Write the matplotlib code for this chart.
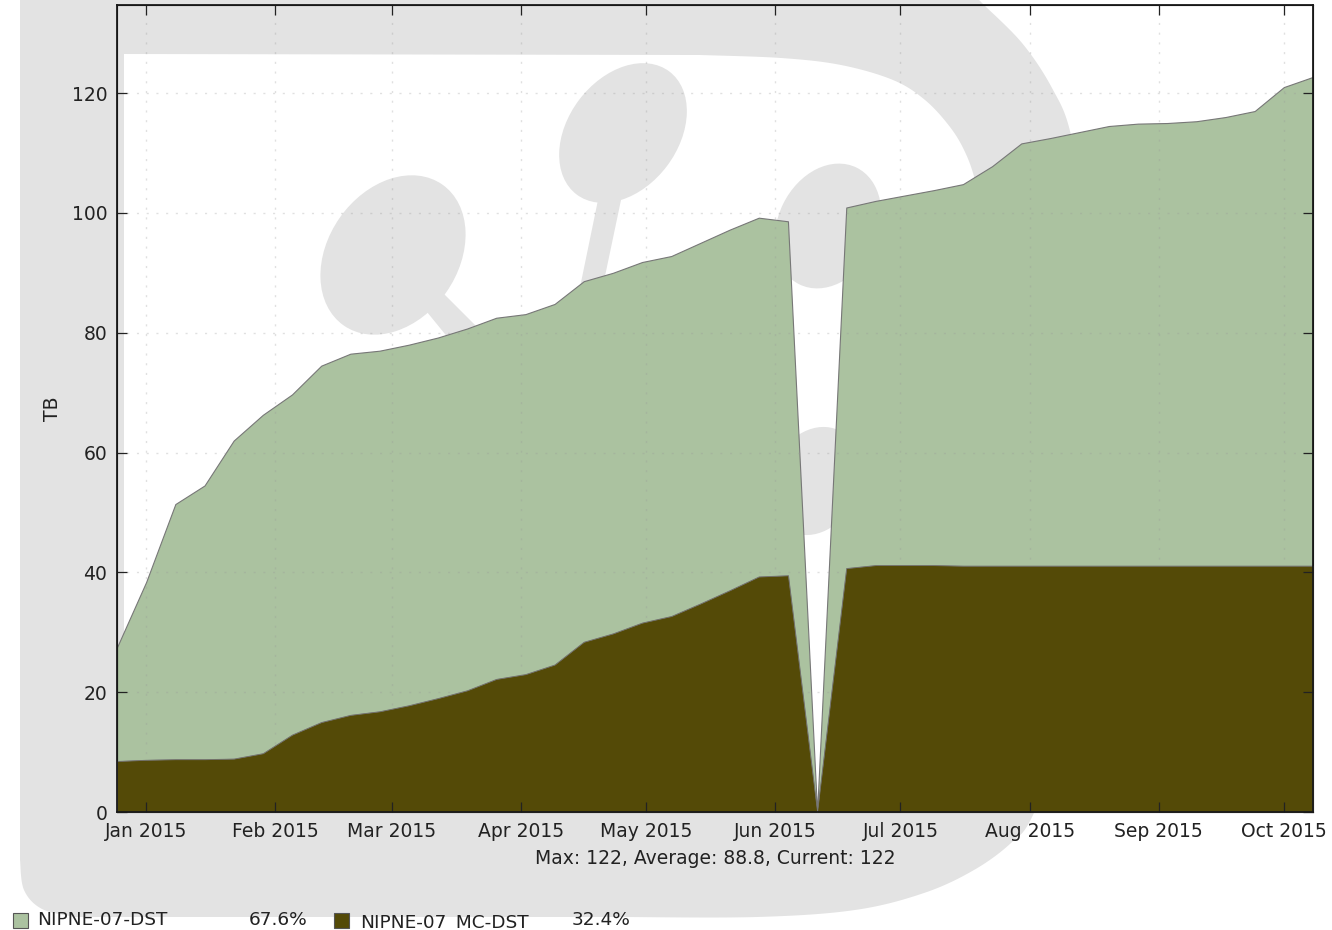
import matplotlib

matplotlib.use("Agg")
import matplotlib.pyplot as plt
import numpy as np
import pandas as pd
from matplotlib.patches import Ellipse, PathPatch, Polygon, Rectangle
from matplotlib.path import Path

WIDTH, HEIGHT = 1332, 930
GREY = "#e3e3e3"
GREEN = "#abc2a0"
BROWN = "#544a07"
TEXT = "#222222"

# one point per week, first one is 25 Dec 2014
weeks = pd.date_range("2014-12-25", periods=42, freq="7D")

mc_dst = [
    8.5, 8.7, 8.8, 8.8, 8.9, 9.8, 12.9, 15.0, 16.2, 16.8, 17.8, 19.0, 20.3, 22.2,
    23.0, 24.6, 28.4, 29.8, 31.6, 32.7, 34.8, 37.0, 39.3, 39.5, 0.0, 40.7, 41.2, 41.2,
    41.2, 41.1, 41.1, 41.1, 41.1, 41.1, 41.1, 41.1, 41.1, 41.1, 41.1, 41.1, 41.1, 41.1,
]
total = [
    27.5, 38.4, 51.4, 54.5, 62.0, 66.3, 69.7, 74.5, 76.5, 77.0, 78.0, 79.2, 80.7, 82.5,
    83.1, 84.8, 88.6, 90.0, 91.8, 92.8, 95.0, 97.2, 99.2, 98.6, 0.0, 100.9, 102.0, 102.9,
    103.8, 104.8, 107.8, 111.6, 112.5, 113.5, 114.5, 114.9, 115.0, 115.3, 116.0, 117.0, 121.0, 122.7,
]

month_ticks = pd.date_range("2015-01-01", "2015-10-01", freq="MS")
month_labels = [d.strftime("%b %Y") for d in month_ticks]
y_ticks = [0, 20, 40, 60, 80, 100, 120]
legend_names = ["NIPNE-07-DST", "NIPNE-07_MC-DST"]
legend_shares = ["67.6%", "32.4%"]
footer = "Max: 122, Average: 88.8, Current: 122"


def smooth(points, steps=16):
    # Catmull-Rom through the points, the watermark has no straight arcs
    pts = np.array([points[0]] + points + [points[-1]], dtype=float)
    out = []
    for i in range(1, len(pts) - 2):
        p0, p1, p2, p3 = pts[i - 1], pts[i], pts[i + 1], pts[i + 2]
        for t in np.linspace(0, 1, steps, endpoint=False):
            out.append(
                0.5 * (2 * p1 + (p2 - p0) * t + (2 * p0 - 5 * p1 + 4 * p2 - p3) * t**2
                       + (3 * p1 - p0 - 3 * p2 + p3) * t**3)
            )
    out.append(pts[-1])
    return np.array(out)


def draw_watermark(ax):
    outer_arc = smooth([
        (620, 917), (757, 917), (855, 910), (924, 893), (974, 870), (1011, 843), (1033, 815),
        (1070, 720), (1092, 560), (1096, 380), (1088, 240), (1071, 135), (1052, 88), (1022, 43),
        (982, 3), (975, -5),
    ])
    corner = smooth([(20, 860), (24, 890), (42, 909), (75, 917)])
    outer = np.vstack([[(20, -5)], corner, outer_arc])
    hole_arc = smooth([
        (700, 55), (781, 58), (841, 65), (893, 80), (925, 100), (950, 127), (965, 152), (975, 180), (985, 225),
    ])
    hole = np.vstack([[(124, 54)], hole_arc, [(985, 812), (124, 812)]])
    verts = np.vstack([outer, outer[:1], hole, hole[:1]])
    codes = (
        [Path.MOVETO] + [Path.LINETO] * (len(outer) - 1) + [Path.CLOSEPOLY]
        + [Path.MOVETO] + [Path.LINETO] * (len(hole) - 1) + [Path.CLOSEPOLY]
    )
    ax.add_patch(PathPatch(Path(verts, codes), facecolor=GREY, edgecolor="none"))

    # y axis points down here, so the tilt angles are negative
    for center, a, b, tilt in [
        ((393, 255), 86, 65, -55),
        ((623, 133), 77, 55, -53),
        ((828, 226), 65, 50, -64),
        ((815, 481), 56, 44, -65),
    ]:
        ax.add_patch(Ellipse(center, 2 * a, 2 * b, angle=tilt, facecolor=GREY, edgecolor="none"))
    ax.add_patch(Polygon([(427, 312), (444, 294), (484, 334), (458, 350)], facecolor=GREY, edgecolor="none"))
    ax.add_patch(Polygon([(598, 200), (621, 200), (600, 300), (578, 297)], facecolor=GREY, edgecolor="none"))


fig = plt.figure(figsize=(WIDTH / 100, HEIGHT / 100), dpi=100)

back = fig.add_axes([0, 0, 1, 1], zorder=0)
back.set_xlim(0, WIDTH)
back.set_ylim(HEIGHT, 0)
back.axis("off")
draw_watermark(back)

rect = [117 / WIDTH, (HEIGHT - 812) / HEIGHT, 1196 / WIDTH, 807 / HEIGHT]

# the grid runs over the green but not over the brown, the ticks run over both,
# so ticks and frame get their own axes on top
ax = fig.add_axes(rect, zorder=1)
ax.patch.set_alpha(0)
ax.fill_between(weeks, mc_dst, total, facecolor=GREEN, edgecolor="#777777", linewidth=0.8, zorder=1)
ax.fill_between(weeks, 0, mc_dst, facecolor=BROWN, edgecolor="#777777", linewidth=0.5, zorder=3)
ax.set_xlim(weeks[0], weeks[-1])
ax.set_ylim(0, 134.7)
ax.set_xticks(month_ticks)
ax.set_yticks(y_ticks)
ax.tick_params(length=0, labelbottom=False, labelleft=False)
ax.grid(True, linestyle=(0, (1.5, 5.5)), linewidth=1.0, color="#999999", alpha=0.3)
ax.set_axisbelow(False)

frame = fig.add_axes(rect, zorder=2)
frame.patch.set_alpha(0)
frame.set_xlim(weeks[0], weeks[-1])
frame.set_ylim(0, 134.7)
frame.set_xticks(month_ticks)
frame.set_xticklabels(month_labels)
frame.set_yticks(y_ticks)
frame.set_ylabel("TB", fontsize=13.5, color=TEXT, labelpad=7)
frame.tick_params(direction="in", length=7.5, width=0.9, top=True, right=True, labelsize=13.5,
                  labelcolor=TEXT, color="#222222", pad=7)
for spine in frame.spines.values():
    spine.set_linewidth(1.3)
    spine.set_color("#1a1a1a")

fig.text(715.5 / WIDTH, 1 - 858 / HEIGHT, footer, ha="center", va="center", fontsize=13.5, color=TEXT)

# legend sits in a row below the axes, drawn by hand because the columns are uneven
for name, share, box_x, name_x, share_x, text_y, color in zip(
    legend_names, legend_shares, [13, 334], [37, 360], [249, 572], [920, 923], [GREEN, BROWN]
):
    fig.add_artist(Rectangle((box_x / WIDTH, 1 - 928 / HEIGHT), 15 / WIDTH, 15 / HEIGHT,
                             facecolor=color, edgecolor="#555555", linewidth=0.8,
                             transform=fig.transFigure))
    fig.text(name_x / WIDTH, 1 - text_y / HEIGHT, name, ha="left", va="center", fontsize=13.3, color=TEXT)
    fig.text(share_x / WIDTH, 1 - 920 / HEIGHT, share, ha="left", va="center", fontsize=13.3, color=TEXT)

fig.savefig("out.png", dpi=100)
